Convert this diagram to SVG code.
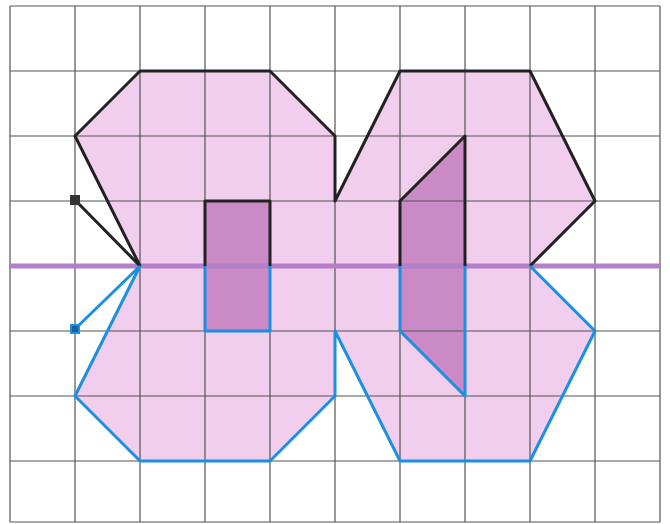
<svg xmlns="http://www.w3.org/2000/svg" width="670" height="524" viewBox="0 0 670 524">
<style>
.light{fill:#f1cdee;stroke:none}
.dark{fill:#c98ac6;stroke:none}
.grid{stroke:#555;stroke-width:1.2;fill:none}
.blk{fill:none;stroke:#222;stroke-width:3;stroke-linejoin:round}
.blu{fill:none;stroke:#1b8fe0;stroke-width:3;stroke-linejoin:round}
.axis{stroke:#b47fc9;stroke-width:5}
</style>
<rect width="670" height="524" fill="#fff"/>
<g id="fills">
<path class="light" d="M75,136 L140,71 L270,71 L335,136 L335,201 L400,71 L530,71 L595,201 L530,266 L140,266 Z"/>
<path class="light" d="M140,266 L75,396 L140,461 L270,461 L335,396 L335,331 L400,461 L530,461 L595,331 L530,266 Z"/>
<rect class="dark" x="205" y="201" width="65" height="130"/>
<path class="dark" d="M400,201 L465,136 L465,396 L400,331 Z"/>
</g>
<g id="grid" class="grid">
<path d="M10,6 V522 M75,6 V522 M140,6 V522 M205,6 V522 M270,6 V522 M335,6 V522 M400,6 V522 M465,6 V522 M530,6 V522 M595,6 V522 M660,6 V522"/>
<path d="M10,6 H660 M10,71 H660 M10,136 H660 M10,201 H660 M10,266 H660 M10,331 H660 M10,396 H660 M10,461 H660 M10,522 H660"/>
</g>
<line id="axis" class="axis" x1="10" y1="266" x2="660" y2="266"/>
<g id="upper-shape">
<polyline class="blk" points="140,266 75,136 140,71 270,71 335,136 335,201 400,71 530,71 595,201 530,266"/>
<polyline class="blk" points="205,266 205,201 270,201 270,266"/>
<polyline class="blk" points="400,266 400,201 465,136 465,266"/>
</g>
<g id="lower-shape">
<polyline class="blu" points="140,266 75,396 140,461 270,461 335,396 335,331 400,461 530,461 595,331 530,266"/>
<polyline class="blu" points="205,266 205,331 270,331 270,266"/>
<polyline class="blu" points="400,266 400,331 465,396 465,266"/>
</g>
<g id="connectors">
<line class="blk" x1="75" y1="200" x2="140" y2="266"/>
<line class="blu" x1="75" y1="329" x2="140" y2="266"/>
</g>
<g id="point-upper"><rect x="70" y="195" width="10" height="10" fill="#333"/></g>
<g id="point-lower"><rect x="71" y="325" width="8" height="8" fill="#1f5f9e" stroke="#1b8fe0" stroke-width="2"/></g>
</svg>
